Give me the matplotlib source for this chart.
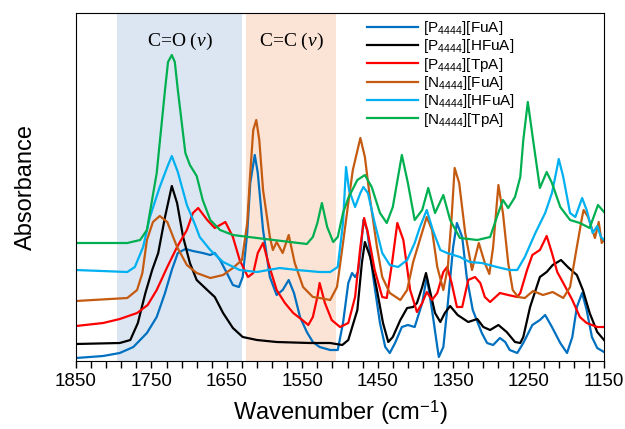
import matplotlib
matplotlib.use("Agg")
import matplotlib.pyplot as plt
import numpy as np

plt.rcParams['font.family'] = ['Liberation Sans', 'DejaVu Sans']
plt.rcParams['mathtext.fontset'] = 'custom'
plt.rcParams['mathtext.rm'] = 'Liberation Sans'
plt.rcParams['mathtext.it'] = 'Liberation Serif:italic'

# spectra (wavenumber, absorbance with offsets)
wn_p_fua = [1850, 1814, 1792, 1774, 1756, 1743, 1732, 1723, 1715, 1705, 1695, 1682, 1672, 1666, 1659,
            1650, 1642, 1634, 1629, 1623, 1619, 1613, 1609, 1602, 1593, 1584, 1576, 1568, 1561, 1553,
            1544, 1536, 1527, 1513, 1503, 1496, 1489, 1484, 1480, 1476, 1472, 1469, 1464, 1456, 1447,
            1440, 1434, 1427, 1418, 1410, 1401, 1391, 1385, 1378, 1371, 1369, 1363, 1357, 1350, 1345,
            1338, 1332, 1324, 1312, 1305, 1297, 1288, 1281, 1275, 1265, 1257, 1245, 1235, 1228, 1219,
            1208, 1199, 1192, 1186, 1179, 1173, 1166, 1159, 1150]
ab_p_fua = [0.03, 0.05, 0.08, 0.14, 0.28, 0.44, 0.68, 0.91, 1.08, 1.12, 1.10, 1.08, 1.06, 1.08, 1.01,
            0.88, 0.76, 0.74, 0.84, 1.28, 1.78, 2.06, 1.88, 1.31, 0.84, 0.66, 0.71, 0.81, 0.68, 0.44,
            0.29, 0.19, 0.14, 0.11, 0.11, 0.38, 0.78, 0.88, 0.84, 0.89, 1.14, 1.41, 1.31, 0.84, 0.38,
            0.14, 0.08, 0.18, 0.34, 0.36, 0.34, 0.58, 0.84, 0.51, 0.14, 0.04, 0.14, 0.58, 1.14, 1.38,
            1.24, 0.84, 0.51, 0.28, 0.18, 0.16, 0.23, 0.19, 0.11, 0.08, 0.18, 0.36, 0.41, 0.46, 0.34,
            0.18, 0.08, 0.24, 0.54, 0.68, 0.51, 0.24, 0.13, 0.09]

wn_p_hfua = [1850, 1792, 1778, 1768, 1758, 1749, 1741, 1732, 1723, 1716, 1708, 1699, 1690, 1676, 1666,
             1655, 1642, 1629, 1610, 1584, 1540, 1513, 1497, 1489, 1477, 1471, 1467, 1460, 1451, 1443,
             1436, 1430, 1420, 1411, 1403, 1398, 1391, 1386, 1381, 1374, 1367, 1361, 1354, 1344, 1330,
             1318, 1310, 1301, 1290, 1279, 1268, 1261, 1257, 1248, 1235, 1226, 1218, 1207, 1198, 1186,
             1178, 1169, 1159, 1150]
ab_p_hfua = [0.17, 0.18, 0.21, 0.38, 0.68, 0.91, 1.08, 1.44, 1.75, 1.58, 1.24, 0.98, 0.81, 0.71, 0.64,
             0.48, 0.33, 0.24, 0.21, 0.19, 0.18, 0.18, 0.16, 0.21, 0.51, 0.98, 1.19, 1.04, 0.71, 0.38,
             0.19, 0.24, 0.41, 0.53, 0.54, 0.58, 0.74, 0.88, 0.71, 0.48, 0.39, 0.48, 0.55, 0.46, 0.39,
             0.42, 0.34, 0.31, 0.36, 0.29, 0.19, 0.18, 0.24, 0.54, 0.84, 0.89, 0.96, 1.01, 0.94, 0.86,
             0.71, 0.48, 0.29, 0.21]

wn_p_tpa = [1850, 1814, 1792, 1769, 1755, 1743, 1729, 1716, 1703, 1695, 1688, 1676, 1666, 1652, 1642,
            1633, 1622, 1615, 1609, 1602, 1595, 1584, 1573, 1562, 1550, 1542, 1536, 1530, 1527, 1520,
            1511, 1500, 1489, 1480, 1473, 1468, 1463, 1454, 1444, 1438, 1431, 1424, 1416, 1407, 1398,
            1391, 1385, 1378, 1371, 1363, 1358, 1352, 1345, 1338, 1330, 1321, 1314, 1308, 1301, 1288,
            1277, 1265, 1261, 1252, 1245, 1235, 1226, 1219, 1212, 1204, 1192, 1182, 1173, 1159, 1150]
ab_p_tpa = [0.35, 0.38, 0.42, 0.48, 0.56, 0.71, 0.94, 1.14, 1.31, 1.48, 1.53, 1.41, 1.33, 1.39, 1.24,
            1.01, 0.84, 0.88, 1.08, 1.18, 0.98, 0.71, 0.58, 0.48, 0.41, 0.36, 0.44, 0.64, 0.78, 0.58,
            0.41, 0.34, 0.38, 0.64, 1.14, 1.43, 1.28, 0.91, 0.64, 0.63, 0.98, 1.38, 1.21, 0.71, 0.49,
            0.58, 0.69, 0.61, 0.68, 0.89, 0.94, 0.78, 0.54, 0.54, 0.81, 0.84, 0.78, 0.64, 0.59, 0.68,
            0.66, 0.64, 0.68, 0.91, 1.06, 1.11, 1.25, 1.08, 0.89, 0.78, 0.61, 0.44, 0.38, 0.34, 0.34]

wn_n_fua = [1850, 1782, 1769, 1762, 1756, 1748, 1739, 1729, 1716, 1703, 1690, 1672, 1655, 1642, 1630,
            1623, 1619, 1615, 1611, 1607, 1602, 1593, 1589, 1584, 1576, 1568, 1560, 1549, 1536, 1527,
            1513, 1504, 1496, 1489, 1483, 1473, 1467, 1460, 1451, 1444, 1434, 1420, 1411, 1403, 1397,
            1385, 1378, 1371, 1363, 1357, 1352, 1348, 1342, 1334, 1325, 1321, 1316, 1308, 1302, 1297,
            1290, 1284, 1277, 1271, 1264, 1255, 1244, 1231, 1218, 1204, 1195, 1186, 1179, 1177, 1171,
            1162, 1157, 1153, 1150]
ab_n_fua = [0.60, 0.63, 0.71, 0.88, 1.21, 1.39, 1.45, 1.39, 1.14, 0.96, 0.88, 0.83, 0.86, 0.93, 1.01,
            1.38, 1.88, 2.31, 2.41, 2.21, 1.71, 1.24, 1.11, 1.19, 1.08, 1.26, 0.98, 0.74, 0.64, 0.63,
            0.61, 0.74, 1.18, 1.58, 1.91, 2.23, 2.04, 1.61, 1.14, 0.84, 0.68, 0.61, 0.71, 0.99, 1.14,
            1.44, 1.31, 0.94, 0.71, 0.94, 1.44, 1.93, 1.78, 1.28, 0.91, 1.03, 1.18, 0.98, 0.87, 1.14,
            1.76, 1.48, 0.98, 0.71, 0.64, 0.63, 0.70, 0.66, 0.69, 0.63, 0.74, 1.14, 1.44, 1.51, 1.44,
            1.23, 1.39, 1.18, 1.21]

wn_n_hfua = [1850, 1782, 1772, 1761, 1752, 1739, 1729, 1723, 1715, 1703, 1692, 1686, 1672, 1655, 1633,
             1610, 1580, 1557, 1527, 1513, 1503, 1496, 1492, 1488, 1480, 1473, 1469, 1463, 1454, 1444,
             1434, 1423, 1411, 1401, 1394, 1385, 1377, 1367, 1358, 1341, 1328, 1312, 1292, 1275, 1265,
             1255, 1241, 1228, 1219, 1212, 1210, 1204, 1195, 1188, 1179, 1173, 1165, 1159, 1154, 1150]
ab_n_hfua = [0.91, 0.89, 0.94, 1.14, 1.44, 1.74, 1.94, 2.05, 1.89, 1.56, 1.36, 1.24, 1.11, 0.99, 0.91,
             0.89, 0.93, 0.91, 0.89, 0.89, 0.94, 1.38, 1.94, 1.71, 1.54, 1.68, 1.74, 1.68, 1.38, 1.08,
             0.96, 0.94, 1.01, 1.18, 1.34, 1.51, 1.31, 1.11, 1.08, 1.04, 0.99, 0.98, 0.94, 0.91, 0.91,
             1.04, 1.28, 1.48, 1.68, 1.94, 2.02, 1.84, 1.48, 1.44, 1.63, 1.51, 1.28, 1.35, 1.24, 1.21]

wn_n_tpa = [1850, 1782, 1765, 1756, 1743, 1732, 1728, 1723, 1719, 1715, 1705, 1699, 1690, 1682, 1672,
            1659, 1642, 1610, 1566, 1544, 1536, 1530, 1524, 1517, 1509, 1503, 1496, 1489, 1477, 1467,
            1458, 1447, 1438, 1430, 1418, 1410, 1401, 1391, 1383, 1374, 1363, 1354, 1341, 1318, 1301,
            1292, 1284, 1277, 1268, 1261, 1257, 1251, 1244, 1235, 1226, 1219, 1208, 1195, 1182, 1169,
            1158, 1150]
ab_n_tpa = [1.18, 1.18, 1.21, 1.31, 1.88, 2.71, 2.99, 3.06, 2.99, 2.71, 2.08, 1.96, 1.85, 1.61, 1.41,
            1.31, 1.26, 1.23, 1.19, 1.17, 1.24, 1.38, 1.58, 1.34, 1.19, 1.24, 1.48, 1.63, 1.81, 1.86,
            1.74, 1.48, 1.38, 1.54, 2.06, 1.78, 1.41, 1.51, 1.73, 1.48, 1.66, 1.41, 1.23, 1.21, 1.24,
            1.44, 1.61, 1.53, 1.64, 1.84, 2.21, 2.59, 2.21, 1.73, 1.89, 1.78, 1.54, 1.41, 1.38, 1.33,
            1.56, 1.49]

series = [
    (wn_p_fua, ab_p_fua, '#0070c0', r'[P$_{4444}$][FuA]'),
    (wn_p_hfua, ab_p_hfua, '#000000', r'[P$_{4444}$][HFuA]'),
    (wn_p_tpa, ab_p_tpa, '#ff0000', r'[P$_{4444}$][TpA]'),
    (wn_n_fua, ab_n_fua, '#c55a11', r'[N$_{4444}$][FuA]'),
    (wn_n_hfua, ab_n_hfua, '#00b0f0', r'[N$_{4444}$][HFuA]'),
    (wn_n_tpa, ab_n_tpa, '#00b050', r'[N$_{4444}$][TpA]'),
]

# band regions
co_band = (1795, 1630)
cc_band = (1625, 1505)

fig = plt.figure(figsize=(6.25, 4.29), dpi=100)
ax = fig.add_axes([0.1216, 0.1585, 0.8448, 0.8112])

ax.axvspan(co_band[0], co_band[1], color='#dce6f2', lw=0, zorder=0)
ax.axvspan(cc_band[0], cc_band[1], color='#fbe4d6', lw=0, zorder=0)

for wn, ab, c, lab in series:
    ax.plot(wn, ab, color=c, lw=1.6, label=lab)

ax.text(1712, 3.2, r'C=O ($v$)', family='Liberation Serif', fontsize=14, ha='center', va='center')
ax.text(1564, 3.2, r'C=C ($v$)', family='Liberation Serif', fontsize=14, ha='center', va='center')

ax.set_xlim(1850, 1150)
ax.set_ylim(0, 3.48)
ax.set_xticks(np.arange(1850, 1149, -100))
ax.set_xticks(np.arange(1850, 1149, -20), minor=True)
ax.set_yticks([])
ax.tick_params(axis='x', which='both', direction='out', labelsize=13.5, width=1)
ax.tick_params(axis='x', which='major', length=5)
ax.tick_params(axis='x', which='minor', length=5)
ax.set_xlabel('Wavenumber (cm$^{\\mathregular{-1}}$)', fontsize=17, labelpad=6)
ax.set_ylabel('Absorbance', fontsize=17, labelpad=28)

ax.legend(loc='upper left', bbox_to_anchor=(0.54, 1.0), frameon=False, fontsize=11,
          handlelength=3.3, handletextpad=0.35, labelspacing=0.02, borderaxespad=0.0)

fig.savefig('out.png', dpi=100)
